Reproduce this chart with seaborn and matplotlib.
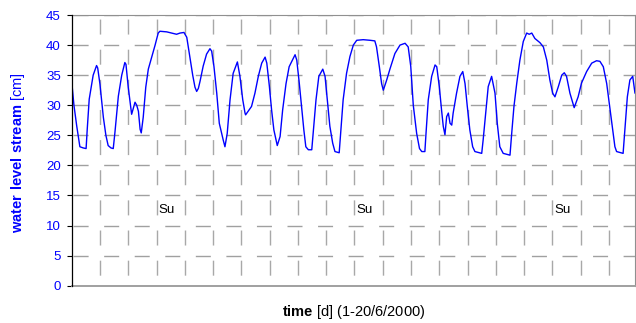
import matplotlib
matplotlib.use("Agg")
import matplotlib.pyplot as plt
import seaborn as sns

# water level readings, 1-20 June 2000 (time in days from start)
time_d = [0.00, 0.08, 0.18, 0.29, 0.41, 0.51, 0.55, 0.62, 0.76, 0.88, 0.92,
          1.00, 1.12, 1.21, 1.29, 1.39, 1.47, 1.53, 1.65, 1.77, 1.88, 1.92,
          2.00, 2.12, 2.18, 2.24, 2.30, 2.36, 2.42, 2.46, 2.53, 2.62, 2.71, 2.83, 2.95,
          3.06, 3.12, 3.36, 3.54, 3.71, 3.83, 3.97,
          4.07, 4.18, 4.28, 4.36, 4.42, 4.48, 4.54, 4.65, 4.77, 4.89, 4.95,
          5.03, 5.13, 5.22, 5.36, 5.42, 5.50, 5.60, 5.71, 5.86, 5.95,
          6.05, 6.13, 6.15, 6.24, 6.36, 6.48, 6.60, 6.72, 6.84, 6.90, 6.99,
          7.07, 7.15, 7.27, 7.37, 7.46, 7.58, 7.69, 7.90, 7.96,
          8.05, 8.13, 8.21, 8.28, 8.37, 8.49, 8.54, 8.64, 8.74, 8.88, 8.96,
          9.04, 9.13, 9.23, 9.31, 9.46, 9.51, 9.60, 9.72, 9.84, 9.96,
          10.08, 10.31, 10.55, 10.72, 10.78, 10.88, 10.96,
          11.02, 11.14, 11.26, 11.43, 11.61, 11.79, 11.90, 11.99,
          12.08, 12.20, 12.30, 12.38, 12.49, 12.53, 12.61, 12.73, 12.85, 12.91,
          13.00, 13.08, 13.14, 13.20, 13.26, 13.32, 13.38, 13.44, 13.49, 13.61, 13.73, 13.83, 13.91, 13.99,
          14.08, 14.18, 14.26, 14.50, 14.55, 14.65, 14.73, 14.85, 14.97,
          15.05, 15.14, 15.26, 15.50, 15.56, 15.64, 15.74, 15.85, 15.97,
          16.09, 16.18, 16.27, 16.38, 16.56, 16.68, 16.80, 16.91,
          17.01, 17.09, 17.21, 17.33, 17.42, 17.50, 17.62, 17.77, 17.91,
          18.03, 18.21, 18.39, 18.56, 18.68, 18.80, 18.92,
          19.04, 19.13, 19.21, 19.27, 19.50, 19.57, 19.65, 19.74, 19.84, 19.92]
level_cm = [34.0, 30.0, 26.5, 23.1, 22.9, 22.8, 26.0, 31.0, 35.0, 36.6, 36.2,
            33.5, 28.0, 25.0, 23.3, 22.9, 22.8, 25.5, 31.5, 35.0, 37.1, 36.8,
            33.0, 28.5, 29.5, 30.5, 30.0, 29.0, 26.0, 25.4, 28.0, 33.0, 36.0, 38.0, 40.0,
            42.0, 42.3, 42.2, 42.0, 41.8, 42.0, 42.1,
            41.3, 38.0, 35.0, 33.0, 32.3, 32.8, 34.0, 36.5, 38.5, 39.4, 39.0,
            36.5, 32.0, 27.0, 24.2, 23.1, 25.3, 30.9, 35.3, 37.2, 34.8,
            30.9, 28.7, 28.4, 29.0, 29.8, 32.0, 34.8, 37.0, 38.0, 37.0, 33.2,
            29.2, 25.9, 23.3, 24.8, 29.2, 33.6, 36.4, 38.4, 37.5,
            33.6, 29.8, 25.9, 23.1, 22.6, 22.6, 25.3, 30.9, 34.8, 36.0, 34.8,
            30.9, 26.5, 23.7, 22.3, 22.1, 25.3, 30.9, 35.3, 38.1, 40.0,
            40.8, 40.9, 40.8, 40.7, 39.7, 36.4, 33.6,
            32.5, 34.2, 36.1, 38.6, 40.0, 40.3, 39.7, 36.5,
            30.0, 25.3, 22.8, 22.3, 22.3, 25.3, 30.9, 34.8, 36.7, 36.4,
            33.1, 29.2, 26.5, 25.1, 28.1, 28.7, 27.0, 26.7, 28.7, 32.0, 34.8, 35.6, 33.6, 29.8,
            25.9, 23.1, 22.3, 22.0, 24.2, 29.2, 33.1, 34.8, 32.0,
            27.0, 23.1, 22.0, 21.7, 25.3, 29.8, 33.7, 37.5, 40.6,
            42.0, 41.8, 42.0, 41.1, 40.4, 39.7, 37.5, 34.2,
            32.0, 31.4, 33.1, 35.0, 35.4, 34.8, 32.0, 29.6, 31.4,
            33.7, 35.6, 37.0, 37.4, 37.3, 36.4, 33.6,
            29.2, 25.9, 23.1, 22.3, 22.0, 26.5, 31.4, 34.2, 34.8, 32.0]

sunday_days = [3, 10, 17]
y_ticks = list(range(0, 50, 5))

sns.set_style("white")
plt.rcParams["font.family"] = ["Liberation Sans", "DejaVu Sans"]
plt.rcParams["mathtext.fontset"] = "custom"
plt.rcParams["mathtext.rm"] = "Liberation Sans"
plt.rcParams["mathtext.bf"] = "Liberation Sans:bold"
plt.rcParams["lines.scale_dashes"] = False

fig = plt.figure(figsize=(6.36, 3.23), dpi=100)
ax = fig.add_axes([0.1127, 0.1155, 0.8857, 0.838])

sns.lineplot(x=time_d, y=level_cm, ax=ax, color="#0000ff", linewidth=1.0, zorder=3)

ax.set_xlim(0, 19.92)
ax.set_ylim(0, 45)
ax.set_xticks(range(1, 20))
ax.set_xticklabels([])
ax.set_yticks(y_ticks)
ax.tick_params(axis="x", length=0)
ax.tick_params(axis="y", direction="out", length=3.8, width=0.8, color="black",
               labelcolor="#0000ff", labelsize=9.5, pad=4, left=True)

# excel-style dashed grid (long dashes, vertical ones offset from the rows)
ax.xaxis.grid(True, color="#a8a8a8", linestyle=(13.9, (10.8, 10.9)), linewidth=1.0)
ax.yaxis.grid(True, color="#a0a0a0", linestyle=(21.2, (10.8, 11.2)), linewidth=1.0)

for side in ["top", "right"]:
    ax.spines[side].set_color("#909090")
    ax.spines[side].set_linewidth(0.8)
ax.spines["bottom"].set_color("#a0a0a0")
ax.spines["bottom"].set_linewidth(1.4)
ax.spines["left"].set_color("black")
ax.spines["left"].set_linewidth(0.9)
ax.spines["left"].set_zorder(4)

for d in sunday_days:
    ax.text(d + 0.07, 12.6, "Su", ha="left", va="center", fontsize=9.5, color="black")

ax.set_ylabel(r"$\bf{water\ level\ stream}$ [cm]", color="#0000ff", fontsize=10.5)
ax.yaxis.set_label_coords(-0.079, 0.49)
ax.set_xlabel(r"$\bf{time}$ [d] (1-20/6/2000)", color="black", fontsize=10.5)
ax.xaxis.set_label_coords(0.5015, -0.065)

fig.savefig("out.png", dpi=100)
